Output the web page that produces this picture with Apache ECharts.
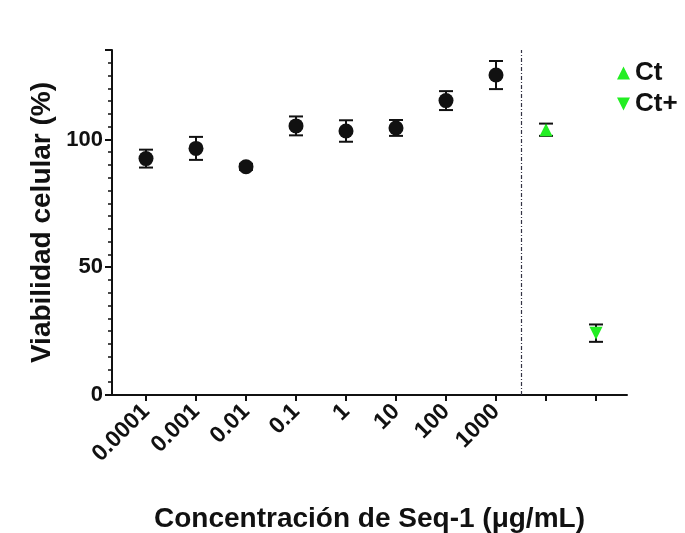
<!DOCTYPE html>
<html>
<head>
<meta charset="utf-8">
<script src="https://cdn.jsdelivr.net/npm/echarts@6/dist/echarts.min.js"></script>
<style>
  html, body { margin: 0; padding: 0; background: #fff; }
  #chart { width: 685px; height: 533px; }
</style>
</head>
<body>
<div id="chart"></div>
<script>
// concentraciones (posición 0..7 en el eje), Ct y Ct+ en 8 y 9
const concLabels = ['0.0001', '0.001', '0.01', '0.1', '1', '10', '100', '1000'];
const seqMean = [92.5, 96.5, 89.3, 105.3, 103.3, 104.5, 115.2, 125.2];
const seqErr = [3.5, 4.5, 1.2, 3.7, 4.2, 3.1, 3.7, 5.5];
const ctMean = [103.8];
const ctErr = [2.4];
const ctPlusMean = [24.2];
const ctPlusErr = [3.4];

const FONT = '"Liberation Sans", Arial, sans-serif';
const GREEN = '#22ee22';

const chart = echarts.init(document.getElementById('chart'));

const seqPoints = seqMean.map((v, i) => [i, v]);
const ctPoints = ctMean.map(v => [8, v]);
const ctPlusPoints = ctPlusMean.map(v => [9, v]);

const errData = [];
seqMean.forEach((v, i) => errData.push([i, v - seqErr[i], v + seqErr[i]]));
errData.push([8, ctMean[0] - ctErr[0], ctMean[0] + ctErr[0]]);
errData.push([9, ctPlusMean[0] - ctPlusErr[0], ctPlusMean[0] + ctPlusErr[0]]);

function renderErr(params, api) {
  const x = api.value(0);
  const lo = api.coord([x, api.value(1)]);
  const hi = api.coord([x, api.value(2)]);
  const w = 7;
  const style = { stroke: '#111', lineWidth: 2 };
  return {
    type: 'group',
    children: [
      { type: 'line', shape: { x1: lo[0], y1: lo[1], x2: hi[0], y2: hi[1] }, style },
      { type: 'line', shape: { x1: hi[0] - w, y1: hi[1], x2: hi[0] + w, y2: hi[1] }, style },
      { type: 'line', shape: { x1: lo[0] - w, y1: lo[1], x2: lo[0] + w, y2: lo[1] }, style }
    ]
  };
}

const option = {
  backgroundColor: '#fff',
  animation: false,
  grid: { left: 112, right: 58, top: 50, bottom: 138, outerBoundsMode: 'none' },
  legend: {
    orient: 'vertical',
    left: 612,
    top: 55,
    itemWidth: 13,
    itemHeight: 13,
    itemGap: 5,
    textStyle: { fontFamily: FONT, fontWeight: 'bold', fontSize: 26, color: '#111' },
    data: [
      { name: 'Ct', icon: 'triangle' },
      { name: 'Ct+', icon: 'path://M0,0 L10,0 L5,10 Z' }
    ]
  },
  xAxis: {
    type: 'value',
    min: -0.68,
    max: 9.62,
    name: 'Concentración de Seq-1 (μg/mL)',
    nameLocation: 'middle',
    nameGap: 110,
    nameMoveOverlap: false,
    nameTextStyle: { fontFamily: FONT, fontWeight: 'bold', fontSize: 28, color: '#111',
      verticalAlign: 'top' },
    axisLine: { show: true, onZero: false, lineStyle: { color: '#111', width: 2 } },
    axisTick: { show: true, length: 6, lineStyle: { color: '#111', width: 2 },
      customValues: [0, 1, 2, 3, 4, 5, 6, 7, 8, 9] },
    axisLabel: {
      customValues: [0, 1, 2, 3, 4, 5, 6, 7],
      rotate: 45,
      margin: 13,
      fontFamily: FONT, fontWeight: 'bold', fontSize: 23, color: '#111',
      formatter: v => concLabels[Math.round(v)] || ''
    },
    splitLine: { show: false }
  },
  yAxis: {
    type: 'value',
    min: 0,
    max: 135,
    interval: 50,
    name: 'Viabilidad celular (%)',
    nameLocation: 'middle',
    nameGap: 56,
    nameMoveOverlap: false,
    nameTextStyle: { fontFamily: FONT, fontWeight: 'bold', fontSize: 28, color: '#111' },
    axisLine: { show: true, onZero: false, lineStyle: { color: '#111', width: 2 } },
    axisTick: { show: true, length: 7, lineStyle: { color: '#111', width: 2 } },
    minorTick: { show: true, splitNumber: 10, length: 4, lineStyle: { color: '#111', width: 1.5 } },
    axisLabel: { margin: 9, showMaxLabel: false, fontFamily: FONT, fontWeight: 'bold', fontSize: 22, color: '#111' },
    splitLine: { show: false }
  },
  series: [
    {
      name: 'errores',
      type: 'custom',
      renderItem: renderErr,
      data: errData,
      z: 1,
      silent: true
    },
    {
      name: 'Seq-1',
      type: 'scatter',
      data: seqPoints,
      symbol: 'circle',
      symbolSize: 15,
      itemStyle: { color: '#111', opacity: 1 },
      z: 3,
      markLine: {
        silent: true,
        symbol: 'none',
        label: { show: false },
        lineStyle: { color: '#334', width: 1.2, type: [4, 2, 1, 2] },
        data: [{ xAxis: 7.5 }]
      }
    },
    {
      name: 'Ct',
      type: 'scatter',
      data: ctPoints,
      symbol: 'triangle',
      symbolSize: 13,
      itemStyle: { color: GREEN, opacity: 1 },
      z: 3
    },
    {
      name: 'Ct+',
      type: 'scatter',
      data: ctPlusPoints,
      symbol: 'triangle',
      symbolRotate: 180,
      symbolSize: 13,
      itemStyle: { color: GREEN, opacity: 1 },
      z: 3
    }
  ]
};

chart.setOption(option);
</script>
</body>
</html>
